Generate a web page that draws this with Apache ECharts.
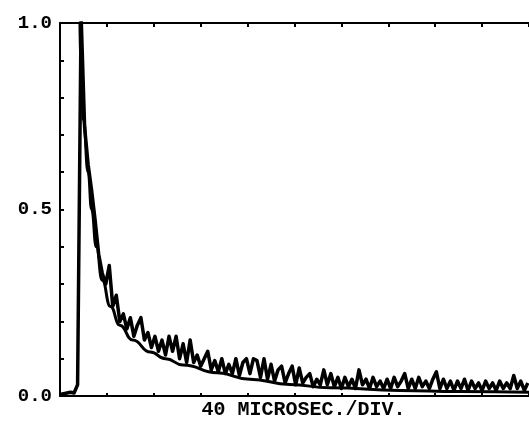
<!DOCTYPE html>
<html>
<head>
<meta charset="utf-8">
<script src="https://cdn.jsdelivr.net/npm/echarts@6/dist/echarts.min.js"></script>
<style>
  html, body { margin: 0; padding: 0; background: #fff; }
  #chart { width: 529px; height: 425px; }
</style>
</head>
<body>
<div id="chart"></div>
<script>
// time axis in microseconds, 40 us per division, 10 divisions
const xMax = 400
const xDiv = 40
const xAxisName = '40 MICROSEC./DIV.'
const yLabelValues = [0, 0.5, 1]
const yTickLabels = ['0.0', '0.5', '1.0']

// noisy decay trace, sampled every 3 us from t = 0
const noisyStart = 0
const noisyStep = 3
const noisyValues = [
  0.004, 0.006, 0.008, 0.010, 0.008, 0.030, 1.020, 0.720, 0.620, 0.550,
  0.470, 0.380, 0.330, 0.300, 0.350, 0.240, 0.270, 0.200, 0.220, 0.180,
  0.210, 0.160, 0.190, 0.210, 0.150, 0.170, 0.130, 0.160, 0.120, 0.150,
  0.110, 0.160, 0.120, 0.160, 0.100, 0.140, 0.090, 0.150, 0.090, 0.110,
  0.080, 0.100, 0.120, 0.070, 0.095, 0.065, 0.100, 0.060, 0.085, 0.060,
  0.100, 0.055, 0.090, 0.100, 0.060, 0.100, 0.095, 0.050, 0.100, 0.045,
  0.085, 0.040, 0.070, 0.080, 0.035, 0.060, 0.080, 0.030, 0.075, 0.035,
  0.050, 0.060, 0.025, 0.045, 0.030, 0.070, 0.030, 0.060, 0.025, 0.050,
  0.020, 0.050, 0.025, 0.045, 0.020, 0.070, 0.030, 0.045, 0.020, 0.050,
  0.025, 0.040, 0.020, 0.045, 0.020, 0.050, 0.025, 0.040, 0.060, 0.020,
  0.045, 0.020, 0.050, 0.025, 0.040, 0.020, 0.045, 0.065, 0.020, 0.045,
  0.020, 0.040, 0.015, 0.040, 0.020, 0.045, 0.015, 0.040, 0.020, 0.035,
  0.015, 0.040, 0.020, 0.035, 0.015, 0.040, 0.020, 0.035, 0.020, 0.055,
  0.020, 0.040, 0.015, 0.035
]

// smooth fitted decay curve
const fitTimes = [17, 19, 20, 24, 27, 31, 36, 43, 51, 62, 77, 90, 105, 134, 162, 196, 230, 290, 340, 400]
const fitValues = [1.0, 0.80, 0.74, 0.60, 0.50, 0.40, 0.31, 0.24, 0.19, 0.15, 0.118, 0.10, 0.083, 0.062, 0.045, 0.031, 0.022, 0.015, 0.012, 0.010]

const noisyData = noisyValues.map((v, i) => [noisyStart + i * noisyStep, v])
const fitData = fitTimes.map((t, i) => [t, fitValues[i]])

const font = '"Liberation Mono", "DejaVu Sans Mono", monospace'

const chart = echarts.init(document.getElementById('chart'), null, { renderer: 'canvas' })

const axisLine = { show: true, onZero: false, lineStyle: { color: '#000', width: 2 } }

chart.setOption({
  animation: false,
  backgroundColor: '#fff',
  grid: { left: 60, right: 0, top: 23, bottom: 27, containLabel: false },
  xAxis: [
    {
      type: 'value',
      position: 'bottom',
      min: 0,
      max: xMax,
      interval: xDiv,
      axisLine: axisLine,
      axisTick: { show: true, inside: true, length: 3, lineStyle: { color: '#000', width: 2 } },
      axisLabel: { show: false },
      splitLine: { show: false },
      name: xAxisName,
      nameLocation: 'middle',
      nameGap: 4,
      nameTextStyle: {
        color: '#000',
        fontFamily: font,
        fontWeight: 'bold',
        fontSize: 20,
        padding: [0, 0, 0, 18]
      }
    },
    {
      type: 'value',
      position: 'top',
      min: 0,
      max: xMax,
      interval: xDiv,
      axisLine: axisLine,
      axisTick: { show: true, inside: true, length: 4, lineStyle: { color: '#000', width: 2 } },
      axisLabel: { show: false },
      splitLine: { show: false }
    }
  ],
  yAxis: {
    type: 'value',
    min: 0,
    max: 1,
    interval: 0.1,
    axisLine: axisLine,
    axisTick: { show: true, inside: true, length: 4, lineStyle: { color: '#000', width: 2 } },
    splitLine: { show: false },
    axisLabel: {
      color: '#000',
      fontFamily: font,
      fontWeight: 'bold',
      fontSize: 19,
      margin: 8,
      formatter: function (v) {
        for (let i = 0; i < yLabelValues.length; i++) {
          if (Math.abs(v - yLabelValues[i]) < 1e-6) return yTickLabels[i]
        }
        return ''
      }
    }
  },
  series: [
    {
      name: 'signal',
      type: 'line',
      xAxisIndex: 0,
      data: noisyData,
      symbol: 'none',
      lineStyle: { color: '#000', width: 3.5, join: 'round' }
    },
    {
      name: 'fit',
      type: 'line',
      xAxisIndex: 0,
      data: fitData,
      symbol: 'none',
      smooth: true,
      smoothMonotone: 'x',
      lineStyle: { color: '#000', width: 3 }
    }
  ]
})
</script>
</body>
</html>
